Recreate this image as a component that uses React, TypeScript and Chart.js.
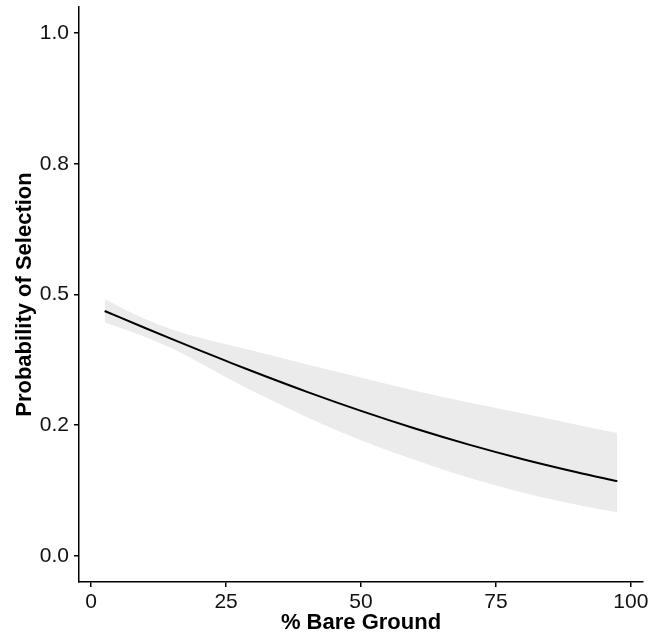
import React, { useEffect, useRef } from "react";
import { Chart, registerables } from "chart.js";

Chart.register(...registerables);

// % Bare Ground
const xValues = [2.5, 10, 15, 20, 25, 30, 40, 50, 60, 70, 80, 90, 97.5];
// Predicted probability of selection
const fitted = [0.4685, 0.436, 0.4146, 0.3935, 0.3729, 0.3526, 0.3137, 0.2773, 0.2436, 0.2128, 0.1849, 0.16, 0.143];
// Confidence band
const upper = [0.491, 0.4531, 0.4329, 0.4176, 0.4049, 0.3922, 0.3663, 0.3412, 0.3158, 0.2936, 0.2722, 0.251, 0.2351];
const lower = [0.4462, 0.4187, 0.3965, 0.3699, 0.3419, 0.3148, 0.2654, 0.2213, 0.1835, 0.1496, 0.1209, 0.0977, 0.0832];

const xTicks = [0, 25, 50, 75, 100];
const yTicks = [0, 0.25, 0.5, 0.75, 1];
const yTickLabels = ["0.0", "0.2", "0.5", "0.8", "1.0"];

const FONT = "'Liberation Sans', Arial, sans-serif";

export default function App() {
  const ref = useRef<HTMLCanvasElement>(null);

  useEffect(() => {
    if (!ref.current) return;
    const pts = (ys: number[]) => xValues.map((x, i) => ({ x, y: ys[i] }));
    const chart = new Chart(ref.current, {
      type: "line",
      data: {
        datasets: [
          {
            label: "fit",
            data: pts(fitted),
            borderColor: "#000000",
            borderWidth: 2,
            pointRadius: 0,
            fill: false,
            cubicInterpolationMode: "monotone",
          },
          {
            label: "upper",
            data: pts(upper),
            borderWidth: 0,
            borderColor: "rgba(0,0,0,0)",
            backgroundColor: "#ebebeb",
            pointRadius: 0,
            fill: "+1",
            cubicInterpolationMode: "monotone",
          },
          {
            label: "lower",
            data: pts(lower),
            borderWidth: 0,
            borderColor: "rgba(0,0,0,0)",
            pointRadius: 0,
            fill: false,
            cubicInterpolationMode: "monotone",
          },
        ],
      },
      options: {
        animation: false,
        responsive: false,
        maintainAspectRatio: false,
        layout: { padding: { top: 7, right: 17, left: 0, bottom: 0 } },
        plugins: {
          legend: { display: false },
          tooltip: { enabled: false },
        },
        scales: {
          x: {
            type: "linear",
            min: -2.25,
            max: 102.25,
            afterBuildTicks: (s: any) => {
              s.ticks = xTicks.map((v) => ({ value: v }));
            },
            afterFit: (s: any) => {
              s.height = 54;
              s.paddingLeft = 0;
              s.paddingRight = 0;
            },
            grid: {
              display: true,
              drawOnChartArea: false,
              drawTicks: true,
              tickLength: 5,
              color: "#000000",
              lineWidth: 1.5,
            },
            border: { display: true, color: "#000000", width: 1.5 },
            ticks: {
              color: "#111111",
              font: { family: FONT, size: 21 },
              padding: 3,
              maxRotation: 0,
              callback: (v: any) => String(v),
            },
            title: {
              display: true,
              text: "% Bare Ground",
              color: "#000000",
              font: { family: FONT, size: 22, weight: "bold" },
              padding: { top: 0, bottom: 0 },
            },
          },
          y: {
            type: "linear",
            min: -0.05,
            max: 1.05,
            afterBuildTicks: (s: any) => {
              s.ticks = yTicks.map((v) => ({ value: v }));
            },
            afterFit: (s: any) => {
              s.width = 79;
              s.paddingTop = 0;
              s.paddingBottom = 0;
            },
            grid: {
              display: true,
              drawOnChartArea: false,
              drawTicks: true,
              tickLength: 5,
              color: "#000000",
              lineWidth: 1.5,
            },
            border: { display: true, color: "#000000", width: 1.5 },
            ticks: {
              color: "#111111",
              font: { family: FONT, size: 21 },
              padding: 5,
              callback: (v: any) => {
                const i = yTicks.indexOf(Number(v));
                return i >= 0 ? yTickLabels[i] : "";
              },
            },
            title: {
              display: true,
              text: "Probability of Selection",
              color: "#000000",
              font: { family: FONT, size: 22, weight: "bold" },
              padding: { top: 12, bottom: 0 },
            },
          },
        },
      },
    });
    return () => chart.destroy();
  }, []);

  return (
    <div style={{ position: "fixed", left: 0, top: 0, width: 660, height: 636, background: "#ffffff" }}>
      <canvas ref={ref} width={660} height={636} style={{ width: 660, height: 636, display: "block" }} />
    </div>
  );
}
